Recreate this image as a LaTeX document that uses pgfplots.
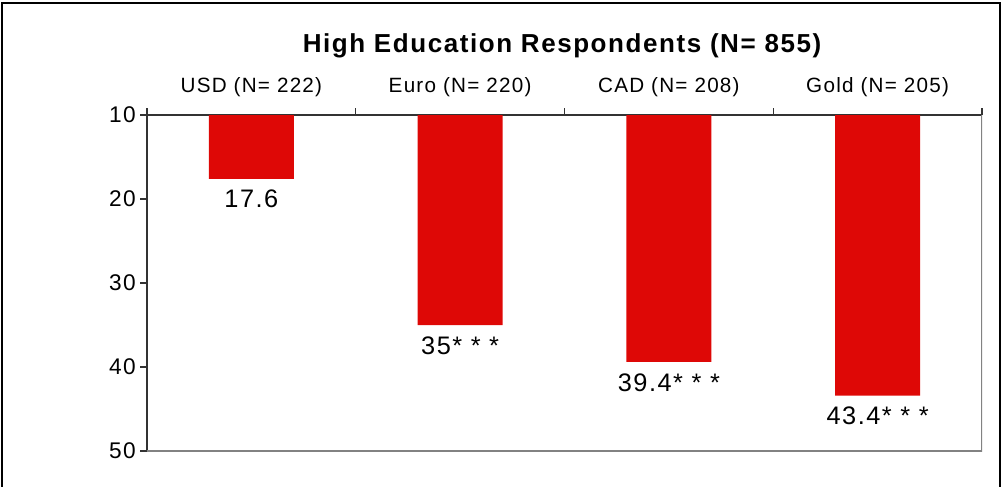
\documentclass[border=0pt]{standalone}
\usepackage{fontspec}
\setmainfont{Liberation Sans}
\newfontfamily\spaced[LetterSpace=6]{Liberation Sans}
\usepackage{pgfplots}
\pgfplotsset{compat=1.18}
\definecolor{barred}{RGB}{222,8,6}
\definecolor{framegray}{RGB}{130,130,130}

\begin{document}
\begin{tikzpicture}[x=0.75pt,y=0.75pt]
% whole picture is 1003 x 486 px, plot area at (147..982, 115..451)
\path[use as bounding box] (-147,-35) rectangle (856,451);
\draw[line width=1.5pt, black] (-145,-40) -- (-145,448) -- (853,448) -- (853,-40);
\node[font=\spaced\bfseries\fontsize{19.5}{21}\selectfont] at (415,405) {High Education Respondents (N= 855)};
\begin{axis}[
  at={(0,0)}, anchor=south west,
  scale only axis, width=626.25pt, height=252pt,
  ybar, bar width=63.75pt,
  y dir=reverse,
  ymin=10, ymax=50, ytick={10,20,...,50},
  xmin=-0.5, xmax=3.5,
  xtick={0,1,2,3},
  xticklabels={USD (N= 222), Euro (N= 220), CAD (N= 208), Gold (N= 205)},
  minor xtick={-0.5,0.5,1.5,2.5,3.5},
  major x tick style={draw=none},
  axis x line*=top, axis y line*=left,
  axis line style={line width=1.2pt, black!80},
  tick style={line width=0.8pt, black!80},
  tick align=outside,
  minor tick length=5pt, major tick length=5pt,
  xticklabel style={font=\spaced\fontsize{15.5}{17}\selectfont, yshift=5pt},
  yticklabel style={font=\spaced\fontsize{17}{19}\selectfont},
  /pgf/number format/assume math mode=true,
  point meta=explicit symbolic,
  nodes near coords={\pgfplotspointmeta},
  every node near coord/.append style={anchor=north, yshift=-5pt, font=\spaced\fontsize{19}{21}\selectfont},
  clip=true,
]
\draw[line width=1.5pt, framegray] (rel axis cs:0,0) -- (rel axis cs:1,0) -- (rel axis cs:1,1);
\addplot[fill=barred, draw=none] coordinates {
  (0,17.6) [17.6]
  (1,35) [35* * *]
  (2,39.4) [39.4* * *]
  (3,43.4) [43.4* * *]
};
\end{axis}
\end{tikzpicture}
\end{document}
